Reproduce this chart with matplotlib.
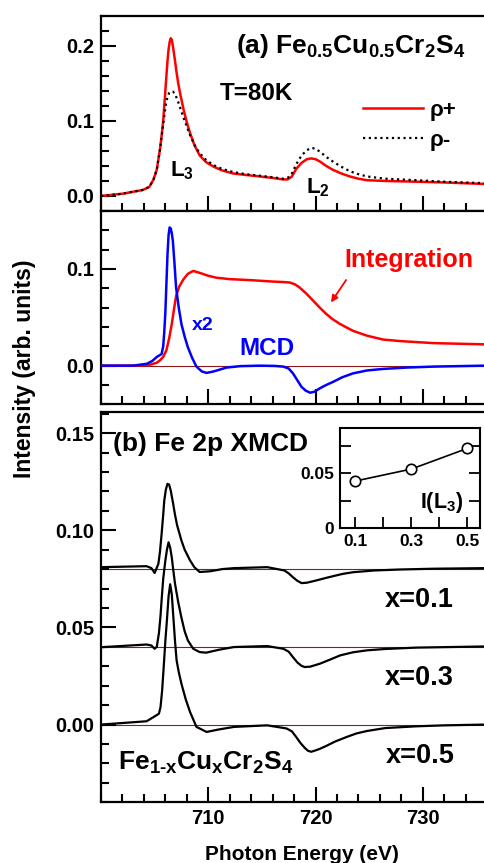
import matplotlib
matplotlib.use("Agg")
import matplotlib.pyplot as plt
from matplotlib.ticker import MultipleLocator, FixedLocator

plt.rcParams['font.family'] = ['Liberation Sans', 'DejaVu Sans']
plt.rcParams['font.weight'] = 'bold'
plt.rcParams['mathtext.fontset'] = 'custom'
plt.rcParams['mathtext.rm'] = 'Liberation Sans:bold'
plt.rcParams['mathtext.bf'] = 'Liberation Sans:bold'
plt.rcParams['mathtext.default'] = 'bf'

# ---------------- data ----------------
# Panel (a) top: XAS rho+ and rho-
rp_E = [700.0, 702.0, 703.9, 704.5, 704.9, 705.2, 705.5, 705.65, 705.8, 705.9, 706.0, 706.1, 706.2, 706.3,
        706.4, 706.5, 706.6, 706.7, 706.8, 706.9, 707.05, 707.2, 707.4, 707.7, 708.0, 708.3, 708.7, 709.2,
        709.8, 710.5, 711.3, 712.3, 713.5, 714.8, 716.0, 717.0, 717.4, 717.8, 718.2, 718.7, 719.2, 719.6,
        720.0, 720.4, 721.0, 721.6, 722.4, 723.2, 724.0, 724.8, 726.5, 729.4, 732.0, 735.8, 740.0]
rp_I = [0.000, 0.003, 0.008, 0.012, 0.022, 0.035, 0.062, 0.080, 0.100, 0.120, 0.140, 0.160, 0.180, 0.195,
        0.205, 0.210, 0.208, 0.200, 0.190, 0.180, 0.164, 0.150, 0.135, 0.115, 0.098, 0.084, 0.068, 0.054,
        0.045, 0.039, 0.034, 0.030, 0.028, 0.026, 0.024, 0.022, 0.022, 0.026, 0.036, 0.044, 0.049, 0.050,
        0.049, 0.046, 0.040, 0.035, 0.030, 0.026, 0.023, 0.021, 0.020, 0.019, 0.018, 0.016, 0.015]
rm_E = [700.0, 702.0, 703.9, 704.5, 704.9, 705.2, 705.5, 705.8, 706.0, 706.2, 706.35, 706.5, 706.7, 706.9,
        707.2, 707.7, 708.3, 708.8, 709.2, 709.8, 710.5, 711.3, 712.3, 713.5, 714.8, 716.0, 717.0,
        717.4, 717.8, 718.2, 718.7, 719.2, 719.6, 720.0, 720.5, 721.0, 721.6, 722.4, 723.2, 724.0,
        724.8, 726.5, 729.4, 732.0, 735.8, 740.0]
rm_I = [0.000, 0.003, 0.008, 0.012, 0.022, 0.035, 0.062, 0.095, 0.118, 0.132, 0.137, 0.139, 0.139, 0.136,
        0.125, 0.104, 0.081, 0.066, 0.057, 0.048, 0.041, 0.036, 0.032, 0.029, 0.027, 0.025, 0.023,
        0.024, 0.030, 0.042, 0.054, 0.061, 0.064, 0.063, 0.058, 0.052, 0.046, 0.039, 0.033, 0.029,
        0.026, 0.023, 0.021, 0.019, 0.017, 0.016]

# Panel (a) bottom: MCD (x2) and its integration
mcd_E = [700.0, 703.0, 704.3, 704.8, 705.2, 705.65, 705.8, 705.9, 706.0, 706.1, 706.2, 706.3, 706.4, 706.5,
         706.6, 706.7, 706.85, 707.0, 707.25, 707.5, 707.8, 708.1, 708.5, 708.9, 709.4, 709.85, 710.5, 711.7,
         713.0, 714.8, 716.2, 717.0, 717.5, 717.9, 718.3, 718.7, 719.1, 719.5, 719.9, 720.4, 721.0,
         721.6, 722.5, 723.5, 724.8, 726.3, 728.5, 731.0, 735.8, 740.0]
mcd_I = [0.000, 0.000, 0.002, 0.005, 0.009, 0.012, 0.020, 0.035, 0.055, 0.085, 0.115, 0.135, 0.143, 0.142,
         0.137, 0.129, 0.106, 0.081, 0.060, 0.043, 0.030, 0.019, 0.008, -0.001, -0.006, -0.0075, -0.006, -0.002,
         -0.0005, 0.000, -0.0003, -0.001, -0.003, -0.008, -0.015, -0.022, -0.026, -0.028, -0.027, -0.0235, -0.020,
         -0.017, -0.012, -0.008, -0.005, -0.0034, -0.002, -0.001, 0.000, 0.000]
int_E = [700.0, 703.0, 704.6, 705.2, 705.5, 705.8, 706.1, 706.35, 706.6, 706.8, 707.0, 707.3, 707.7,
         708.1, 708.6, 709.2, 710.0, 710.75, 712.0, 713.9, 716.0, 717.0, 717.6, 718.1, 718.5, 719.1,
         719.8, 720.4, 721.0, 721.6, 722.3, 723.5, 724.8, 726.3, 727.9, 731.0, 735.8, 740.0]
int_I = [0.000, 0.000, 0.001, 0.003, 0.0055, 0.009, 0.016, 0.028, 0.043, 0.058, 0.072, 0.082, 0.0895,
         0.095, 0.098, 0.096, 0.093, 0.091, 0.0895, 0.0885, 0.087, 0.0865, 0.086, 0.084, 0.081, 0.075,
         0.067, 0.060, 0.0535, 0.048, 0.043, 0.036, 0.031, 0.027, 0.0254, 0.0233, 0.022, 0.022]

# Panel (b): Fe 2p XMCD for x = 0.1, 0.3, 0.5 (offset already included)
x01_E = [700.0, 704.25, 704.7, 705.0, 705.35, 705.5, 705.65, 705.8, 705.9, 706.05, 706.2, 706.35, 706.5,
         706.7, 706.9, 707.1, 707.5, 707.8, 708.3, 708.7, 709.2, 710.2, 711.3, 712.4, 715.5, 717.1, 717.5,
         717.9, 718.3, 718.7, 719.2, 720.1, 721.0, 721.6, 722.5, 723.5, 725.5, 727.9, 731.0, 735.8, 740.0]
x01_I = [0.081, 0.0815, 0.0805, 0.078, 0.0827, 0.089, 0.098, 0.108, 0.1153, 0.121, 0.1239, 0.1235, 0.1205,
         0.1145, 0.108, 0.1025, 0.0947, 0.090, 0.0845, 0.081, 0.0785, 0.0789, 0.0800, 0.0805, 0.081, 0.0793, 0.0778,
         0.0758, 0.0740, 0.0728, 0.0730, 0.0742, 0.0755, 0.0763, 0.0775, 0.0784, 0.0793, 0.0798, 0.0802, 0.0805, 0.0805]
x03_E = [700.0, 704.25, 704.7, 705.0, 705.2, 705.4, 705.55, 705.65, 705.8, 706.0, 706.15, 706.3, 706.45,
         706.6, 706.75, 706.9, 707.2, 707.5, 707.8, 708.1, 708.6, 709.2, 709.8, 711.0, 712.4, 715.5, 717.0,
         717.5, 717.9, 718.3, 718.7, 719.0, 719.5, 720.4, 721.3, 722.3, 723.5, 724.8, 726.5, 729.4, 735.8, 740.0]
x03_I = [0.0398, 0.0412, 0.0407, 0.039, 0.040, 0.047, 0.056, 0.064, 0.075, 0.0844, 0.090, 0.0938, 0.091,
         0.086, 0.079, 0.0725, 0.063, 0.055, 0.048, 0.0433, 0.039, 0.0373, 0.037, 0.0385, 0.0399, 0.0404, 0.039,
         0.0375, 0.0347, 0.032, 0.0302, 0.0296, 0.0298, 0.0313, 0.0333, 0.0356, 0.0372, 0.0382, 0.0389, 0.0396,
         0.0402, 0.0402]
x05_E = [700.0, 704.25, 705.0, 705.4, 705.55, 705.7, 705.85, 706.0, 706.15, 706.3, 706.45, 706.6, 706.75,
         706.9, 707.05, 707.25, 707.5, 707.9, 708.3, 708.9, 709.85, 711.0, 712.4, 715.5, 717.3, 717.8,
         718.2, 718.6, 719.0, 719.3, 719.6, 720.0, 720.4, 721.0, 721.8, 722.9, 723.8, 724.8, 726.5, 729.4,
         732.0, 735.8, 740.0]
x05_I = [0.000, 0.0017, 0.0042, 0.0056, 0.009, 0.0175, 0.030, 0.043, 0.054, 0.066, 0.0722, 0.067, 0.055,
         0.043, 0.033, 0.027, 0.021, 0.013, 0.0065, -0.0012, -0.0038, -0.0025, -0.0012, -0.0004, -0.002, -0.0035,
         -0.0064, -0.0095, -0.012, -0.0135, -0.014, -0.0133, -0.0125, -0.011, -0.0088, -0.0064, -0.0046, -0.0033,
         -0.0018, -0.0009, -0.0004, 0.000, 0.000]
offsets = [0.08, 0.04, 0.0]

# Inset: I(L3) vs x
inset_x = [0.1, 0.3, 0.5]
inset_I = [0.043, 0.0539, 0.0727]

# ---------------- figure ----------------
W, H = 485, 863
fig = plt.figure(figsize=(W / 100, H / 100), dpi=100)

def frac(left_px, top_px, right_px, bottom_px):
    return [left_px / W, 1 - bottom_px / H, (right_px - left_px) / W, (bottom_px - top_px) / H]

ax1 = fig.add_axes(frac(101, 15.7, 530, 211))
ax2 = fig.add_axes(frac(101, 211, 530, 404.3))
ax3 = fig.add_axes(frac(101, 411.7, 530, 802.3))

for ax in (ax1, ax2, ax3):
    ax.set_xlim(700, 740)
    ax.xaxis.set_major_locator(FixedLocator([710, 720, 730]))
    ax.xaxis.set_minor_locator(MultipleLocator(2))
    ax.tick_params(which='both', direction='in', top=False, right=False, width=1.5,
                   labelsize=14.5, pad=5)
    ax.tick_params(which='major', length=11)
    ax.tick_params(which='minor', length=6)
    for s in ax.spines.values():
        s.set_linewidth(1.6)

# Panel 1
ax1.plot(rp_E, rp_I, color='#ff0000', lw=1.8, label='ρ+', zorder=3)
ax1.plot(rm_E, rm_I, color='black', lw=1.6, ls=(0, (1, 1.6)), label='ρ-', zorder=4)
ax1.set_ylim(-0.02, 0.24)
ax1.yaxis.set_major_locator(FixedLocator([0.0, 0.1, 0.2]))
ax1.yaxis.set_minor_locator(MultipleLocator(0.02))
ax1.set_yticklabels(['0.0', '0.1', '0.2'])
ax1.tick_params(labelbottom=False)
ax1.text(712.6, 0.190, '(a) Fe$_{0.5}$Cu$_{0.5}$Cr$_{2}$S$_{4}$', fontsize=19, ha='left', va='baseline')
ax1.text(711.1, 0.128, 'T=80K', fontsize=17.5, ha='left', va='baseline')
ax1.text(706.4, 0.0267, 'L$_{3}$', fontsize=16, ha='left', va='baseline')
ax1.text(719.1, 0.0036, 'L$_{2}$', fontsize=16, ha='left', va='baseline')
ax1.legend(loc='upper left', bbox_to_anchor=(363 / W, 1 - 100 / H), bbox_transform=fig.transFigure,
           frameon=False, fontsize=16, handlelength=2.7, handletextpad=0.3, labelspacing=0.4,
           borderpad=0, borderaxespad=0)

# Panel 2
ax2.axhline(0, color='#8b1a1a', lw=0.8, zorder=1)
ax2.plot(int_E, int_I, color='#ff0000', lw=1.8, zorder=3)
ax2.plot(mcd_E, mcd_I, color='#0000ff', lw=1.8, zorder=4)
ax2.set_ylim(-0.04, 0.16)
ax2.yaxis.set_major_locator(FixedLocator([0.0, 0.1]))
ax2.yaxis.set_minor_locator(MultipleLocator(0.02))
ax2.set_yticklabels(['0.0', '0.1'])
ax2.tick_params(labelbottom=False)
ax2.text(722.7, 0.1016, 'Integration', color='#ff0000', fontsize=18, ha='left', va='baseline')
ax2.annotate('', xy=(721.3, 0.063), xytext=(723.0, 0.091),
             arrowprops=dict(arrowstyle='-|>', color='#ff0000', lw=1.3, mutation_scale=10))
ax2.text(708.5, 0.037, 'x2', color='#0000ff', fontsize=14, ha='left', va='baseline')
ax2.text(712.9, 0.0107, 'MCD', color='#0000ff', fontsize=17.5, ha='left', va='baseline')

# Panel 3
for off in offsets:
    ax3.axhline(off, color='#8b1a1a', lw=0.8, zorder=1)
for Es, Is in ((x01_E, x01_I), (x03_E, x03_I), (x05_E, x05_I)):
    ax3.plot(Es, Is, color='black', lw=1.6, zorder=3)
ax3.set_ylim(-0.04, 0.161)
ax3.yaxis.set_major_locator(FixedLocator([0.0, 0.05, 0.10, 0.15]))
ax3.yaxis.set_minor_locator(MultipleLocator(0.01))
ax3.set_yticklabels(['0.00', '0.05', '0.10', '0.15'])
ax3.text(701.1, 0.141, '(b) Fe 2p XMCD', fontsize=19, ha='left', va='baseline')
ax3.text(726.5, 0.0603, 'x=0.1', fontsize=19.5, ha='left', va='baseline')
ax3.text(726.5, 0.0202, 'x=0.3', fontsize=19.5, ha='left', va='baseline')
ax3.text(726.6, -0.020, 'x=0.5', fontsize=19.5, ha='left', va='baseline')
ax3.text(701.6, -0.0235, 'Fe$_{1\\text{-}x}$Cu$_{x}$Cr$_{2}$S$_{4}$', fontsize=19, ha='left', va='baseline')

# Inset
axi = fig.add_axes(frac(340, 427.7, 480, 528.3))
axi.plot(inset_x, inset_I, color='black', lw=1.2, marker='o', ms=7.5, mfc='white', mec='black', mew=1.2)
axi.set_xlim(0.045, 0.545)
axi.set_ylim(0, 0.0915)
axi.xaxis.set_major_locator(FixedLocator([0.1, 0.3, 0.5]))
axi.xaxis.set_minor_locator(FixedLocator([0.2, 0.4]))
axi.set_xticklabels(['0.1', '0.3', '0.5'])
axi.yaxis.set_major_locator(FixedLocator([0.0, 0.05]))
axi.yaxis.set_minor_locator(FixedLocator([0.025, 0.075]))
axi.set_yticklabels(['0', '0.05'])
axi.tick_params(which='both', direction='in', right=True, top=False, width=1.3, labelsize=12.5, pad=4)
axi.tick_params(which='major', length=8)
axi.tick_params(which='minor', length=8)
for s in axi.spines.values():
    s.set_linewidth(1.5)
axi.text(0.331, 0.0185, 'I(L$_{3}$)', fontsize=15.5, ha='left', va='baseline')

# Axis labels
fig.text(25 / W, 1 - 369 / H, 'Intensity (arb. units)', rotation=90, fontsize=16.5,
         ha='center', va='center')
fig.text(302 / W, 1 - 860 / H, 'Photon Energy (eV)', fontsize=15, ha='center', va='baseline')

fig.savefig('out.png', dpi=100)
